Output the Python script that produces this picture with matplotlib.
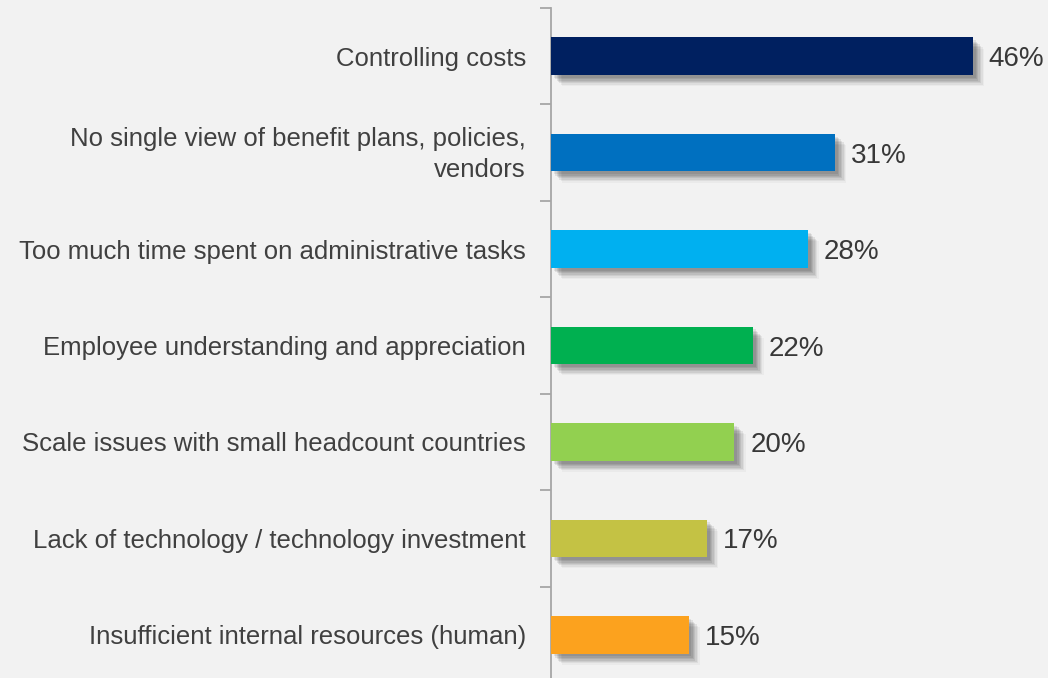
import matplotlib
matplotlib.use("Agg")
from matplotlib import pyplot as plt
from matplotlib import patheffects as pe
from matplotlib import transforms as mtransforms

categories = [
    "Controlling costs",
    "No single view of benefit plans, policies,\nvendors",
    "Too much time spent on administrative tasks",
    "Employee understanding and appreciation",
    "Scale issues with small headcount countries",
    "Lack of technology / technology investment",
    "Insufficient internal resources (human)",
]
values = [46, 31, 28, 22, 20, 17, 15]
colors = ["#002060", "#0070c0", "#00b0f0", "#00b050", "#92d050", "#c4c244", "#fca21e"]

bg = "#f2f2f2"
text_color = "#404040"
axis_color = "#a6a6a6"

W, H = 1048, 678
fig = plt.figure(figsize=(W / 100, H / 100), dpi=100)
fig.patch.set_facecolor(bg)

# axes placed in pixel terms: spine at x=551, category ticks from y=8 down past the bottom
left, top, bottom = 551, 8, 683
ax = fig.add_axes([left / W, (H - bottom) / H, (W - left) / W, (bottom - top) / H])
ax.set_facecolor(bg)

n = len(categories)
ypos = list(range(n))
ax.set_ylim(n - 0.5, -0.5)
ax.set_xlim(0, (W - left) / 9.17)

# soft drop shadow built from several faint offset copies
shadow = []
for dx, dy, a in [(2, -2, 0.08), (3, -3, 0.08), (4, -4, 0.08), (5, -5, 0.08),
                  (6, -6, 0.07), (7, -7, 0.05), (8, -8, 0.03)]:
    shadow.append(pe.SimplePatchShadow(offset=(dx, dy), shadow_rgbFace="black", alpha=a))
shadow.append(pe.Normal())

bars = ax.barh(ypos, values, height=0.39, color=colors, zorder=3)
for b in bars:
    b.set_path_effects(shadow)

for y, v in zip(ypos, values):
    ax.annotate(f"{v}%", xy=(v, y), xytext=(16, -3), textcoords="offset pixels",
                va="center", ha="left", fontsize=20, color="#383838",
                family=["Liberation Sans", "DejaVu Sans"])

ax.set_yticks([i - 0.5 for i in range(n + 1)], minor=False)
ax.set_yticklabels([])
ax.set_yticks(ypos, minor=True)
ax.set_yticklabels(categories, minor=True, fontsize=18.5, color=text_color,
                   family="Liberation Sans", ha="right", linespacing=1.38)
ax.tick_params(axis="y", which="major", length=8, width=1.3, color=axis_color, direction="out")
ax.tick_params(axis="y", which="minor", length=0, pad=18)

# nudge the two-line label up a little so it sits centred on its bar
for lbl in ax.get_yticklabels(minor=True):
    if "\n" in lbl.get_text():
        lbl.set_transform(lbl.get_transform() +
                          mtransforms.ScaledTranslation(0, 4 / 100, fig.dpi_scale_trans))
ax.set_xticks([])

for s in ["top", "right", "bottom"]:
    ax.spines[s].set_visible(False)
ax.spines["left"].set_color(axis_color)
ax.spines["left"].set_linewidth(1.3)

fig.savefig("out.png", dpi=100, facecolor=bg)
